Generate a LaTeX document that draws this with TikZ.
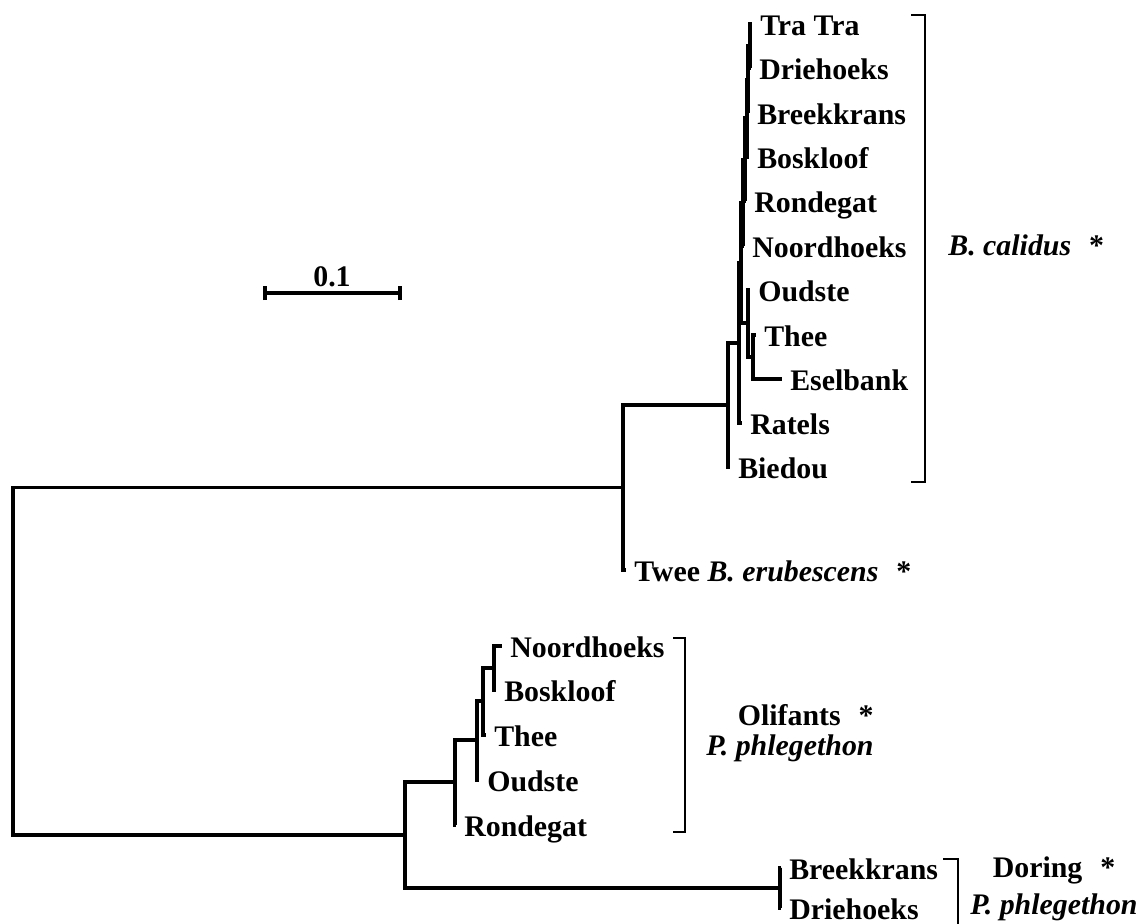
\documentclass[tikz,border=0pt]{standalone}
\usepackage{fontspec}
\setmainfont{Liberation Serif}
\usetikzlibrary{positioning}

\begin{document}
\begin{tikzpicture}[
  x=0.02cm, y=-0.02cm,
  every node/.style={font=\fontsize{17}{17}\selectfont\bfseries},
  branch/.style={line width=2pt},
  leaf/.style={anchor=base west, inner sep=0pt, xshift=4.5pt, yshift=-6.8pt},
  bracket/.style={line width=1.1pt},
  clade/.style={inner sep=0pt, align=center}
]
\useasboundingbox (0,0) rectangle (1141,923);

% Internal nodes of the tree (pixel grid, y downwards)
\foreach \n/\x/\y in {root/13/661, T/623/487.5, A/728/405, B/739/343,
    a6/741/263, a5/743/203, a4/745/160, a3/747/118, a2/748/80, a1/750/46,
    a7/748/323, a8/753/357,
    P/405/835, o4/455/782, o3/477/740, o2/483/701, o1/494/668,
    D/780/888} {
  \coordinate (\n) at (\x,\y);
}

% Leaves and their labels
\foreach \n/\x/\y/\t in {trtr/752/24/Tra Tra, drie/751/68/Driehoeks,
    breek/749/113/Breekkrans, bosk/749/157/Boskloof, ronde/746/201/Rondegat,
    noord/744/246/Noordhoeks, oud/750/290/Oudste, thee/756/335/Thee,
    esel/782/379/Eselbank, ratels/742/423/Ratels, bied/730/467/Biedou,
    onoord/502/646/Noordhoeks, obosk/496/690/Boskloof, othee/486/735/Thee,
    ooud/479/780/Oudste, oronde/456/825/Rondegat,
    dbreek/781/868/Breekkrans, ddrie/781/908/Driehoeks} {
  \coordinate (\n) at (\x,\y);
  \node[leaf] (\n-l) at (\n) {\t};
}
\coordinate (twee) at (626,570);
\node[leaf] (twee-l) at (twee) {Twee \textit{B. erubescens}\hspace{0.6em}*};

% Branches
\foreach \a/\b in {root/T, root/P, T/A, T/twee, A/B, A/bied, B/a6, B/ratels,
    a6/a5, a6/a7, a5/a4, a5/noord, a4/a3, a4/ronde, a3/a2, a3/bosk,
    a2/a1, a2/breek, a1/trtr, a1/drie, a7/oud, a7/a8, a8/thee, a8/esel,
    P/o4, P/D, o4/o3, o4/oronde, o3/o2, o3/ooud, o2/o1, o2/othee,
    o1/onoord, o1/obosk, D/dbreek, D/ddrie} {
  \draw[branch] (\a) |- (\b);
}

% Clade brackets
\draw[bracket] (911,15) -- (925,15) -- (925,482) -- (911,482);
\draw[bracket] (673,638) -- (685,638) -- (685,832) -- (673,832);
\draw[bracket] (943,859) -- (958,859) -- (958,940);

\node[clade, anchor=west] (calidus) at (948,245) {\textit{B. calidus}\hspace{0.6em}*};
\node[clade, align=right] (olifants) at (790,733) {Olifants\hspace{0.6em}*\\\textit{P. phlegethon}};
\node[clade] (doring) at (1054,889) {Doring\hspace{0.6em}*\\[4pt]\textit{P. phlegethon}};

% Scale bar
\coordinate (s0) at (265,293);
\coordinate (s1) at (400,293);
\draw[branch] (s0) -- (s1);
\draw[branch] ([yshift=-4pt]s0) -- ([yshift=4pt]s0);
\draw[branch] ([yshift=-4pt]s1) -- ([yshift=4pt]s1);
\node[clade] (scale) at (332,277) {0.1};

\end{tikzpicture}
\end{document}
